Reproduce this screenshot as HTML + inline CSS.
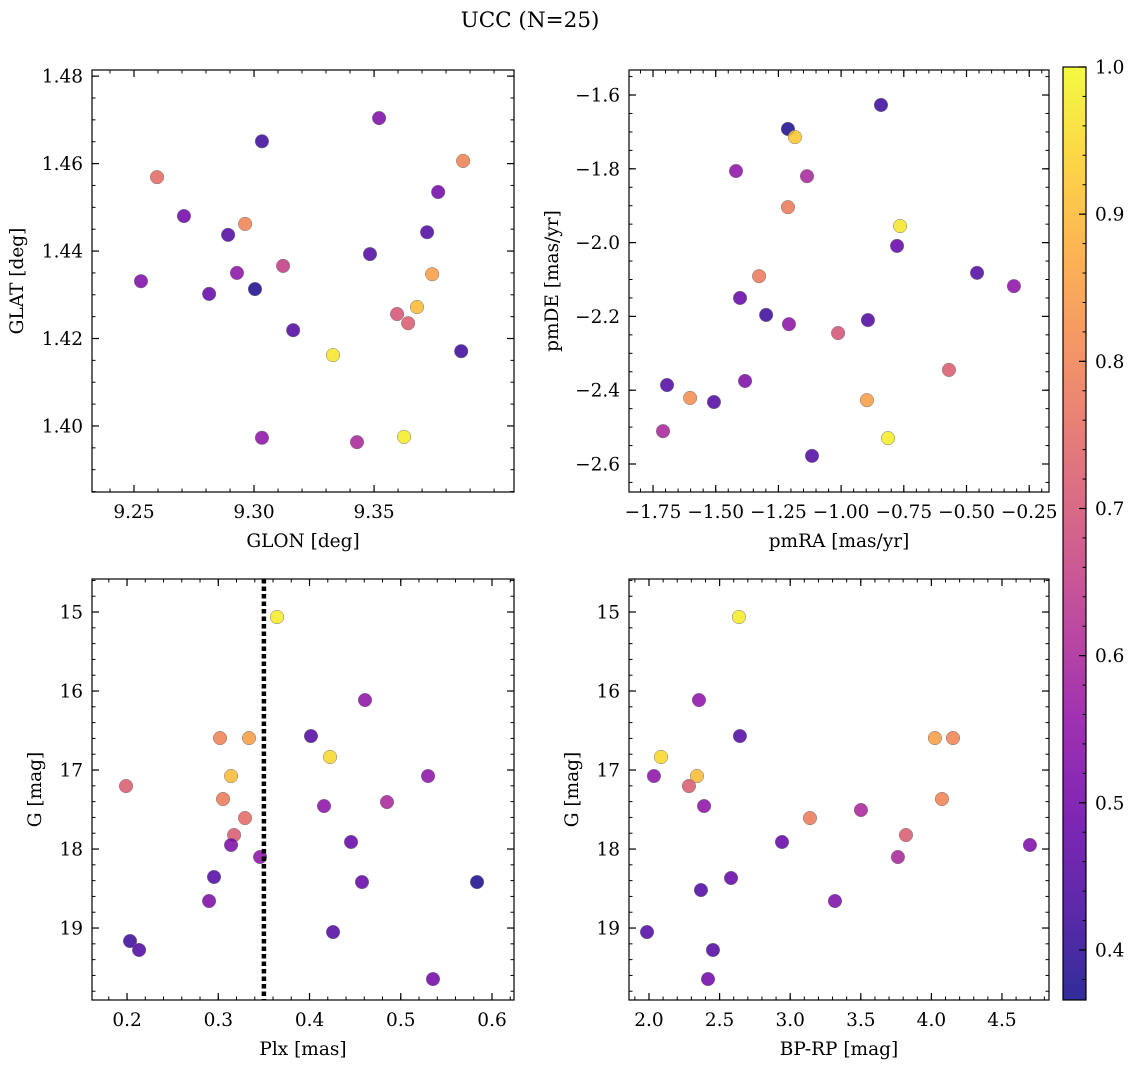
<!DOCTYPE html>
<html><head><meta charset="utf-8">
<style>
html,body{margin:0;padding:0;background:#fff;}
svg text{font-family:"DejaVu Serif","Liberation Serif",serif;fill:#000;}
</style></head>
<body>
<svg id="fig" width="1135" height="1067" viewBox="0 0 1135 1067" xmlns="http://www.w3.org/2000/svg">
<text x="530" y="27" font-size="21.5" text-anchor="middle">UCC (N=25)</text>
</svg>
<script>
// ---- data ----
const glon = [9.3033,9.2596,9.2708,9.2892,9.2963,9.2529,9.2813,9.2929,9.3004,9.3121,9.3163,9.3329,9.3033,9.3429,9.3521,9.3483,9.3596,9.3642,9.3679,9.3625,9.3742,9.3721,9.3767,9.3871,9.3863];
const glat = [1.4651,1.4569,1.4480,1.4437,1.4462,1.4331,1.4302,1.4350,1.4313,1.4366,1.4219,1.4162,1.3973,1.3963,1.4704,1.4393,1.4256,1.4235,1.4272,1.3975,1.4347,1.4443,1.4535,1.4606,1.4171];
const probPos = [0.42,0.75,0.5,0.45,0.8,0.52,0.48,0.55,0.38,0.65,0.45,0.97,0.55,0.6,0.52,0.45,0.7,0.72,0.9,0.98,0.85,0.45,0.5,0.8,0.42];

const pmra = [-0.841,-1.212,-1.184,-1.419,-1.136,-1.212,-0.765,-0.777,-0.458,-0.311,-1.327,-1.403,-1.299,-1.208,-0.893,-1.012,-0.570,-1.694,-1.383,-1.602,-1.507,-0.897,-1.710,-0.813,-1.116];
const pmde = [-1.627,-1.692,-1.714,-1.806,-1.820,-1.904,-1.955,-2.009,-2.082,-2.118,-2.091,-2.150,-2.196,-2.221,-2.210,-2.245,-2.345,-2.386,-2.375,-2.421,-2.432,-2.427,-2.511,-2.530,-2.578];
const probPm = [0.42,0.38,0.92,0.55,0.6,0.78,0.97,0.48,0.45,0.55,0.78,0.48,0.42,0.55,0.45,0.7,0.72,0.45,0.52,0.82,0.45,0.85,0.6,0.98,0.45];

const plx = [0.3644,0.4608,0.4016,0.3019,0.3337,0.4225,0.3140,0.5299,0.1989,0.3052,0.4849,0.4159,0.3293,0.3173,0.3140,0.4455,0.3458,0.2953,0.4575,0.5836,0.2899,0.4258,0.2033,0.2132,0.5353];
const gPlx = [15.063,16.114,16.570,16.595,16.595,16.835,17.076,17.076,17.203,17.367,17.405,17.456,17.608,17.823,17.949,17.911,18.101,18.354,18.418,18.418,18.658,19.051,19.165,19.278,19.646];
const probPlx = [0.98,0.55,0.45,0.8,0.85,0.95,0.9,0.55,0.72,0.78,0.6,0.55,0.75,0.72,0.52,0.48,0.55,0.45,0.48,0.38,0.52,0.45,0.42,0.45,0.5];

const bprp = [2.637,2.354,2.644,2.085,4.025,4.153,2.340,2.035,2.283,2.390,3.501,4.075,3.140,3.820,3.763,2.942,4.698,2.368,2.581,3.317,1.986,2.453,2.418];
const gCmd = [15.063,16.114,16.570,16.835,16.595,16.595,17.076,17.076,17.203,17.456,17.506,17.367,17.608,17.823,18.101,17.911,17.949,18.519,18.367,18.658,19.051,19.278,19.646];
const probCmd = [0.98,0.55,0.45,0.95,0.85,0.8,0.9,0.55,0.72,0.55,0.6,0.8,0.78,0.72,0.6,0.48,0.52,0.45,0.48,0.52,0.45,0.45,0.5];

const plxCut = 0.35;
const cbTicks = [0.4,0.5,0.6,0.7,0.8,0.9,1.0];
const VMIN = 0.366, VMAX = 1.0;

// ---- helpers ----
const NS = "http://www.w3.org/2000/svg";
const svg = document.getElementById('fig');
const FS = 18.5;
function mk(tag, attrs, parent){const e=document.createElementNS(NS,tag);for(const k in attrs)e.setAttribute(k,attrs[k]);(parent||svg).appendChild(e);return e;}
const stops=["#0d0887","#41049d","#6a00a8","#8f0da4","#b12a90","#cc4778","#e16462","#f2844b","#fca636","#fcce25","#f0f921"];
function hex(h){return [1,3,5].map(i=>parseInt(h.substr(i,2),16));}
function plasma(t){t=Math.max(0,Math.min(1,t));const f=t*10,i=Math.min(9,Math.floor(f)),r=f-i;const a=hex(stops[i]),b=hex(stops[i+1]);return "rgb("+a.map((v,k)=>Math.round(v+(b[k]-v)*r)).join(",")+")";}
function cmap(v){return plasma((v-VMIN)/(VMAX-VMIN));}
function range(a,b,s){const r=[];for(let v=a;v<=b+1e-9;v+=s)r.push(+v.toFixed(6));return r;}

function panel(o){
  const g=mk('g',{});
  
  
  const X=v=>o.x0+(v-o.xd[0])/(o.xd[1]-o.xd[0])*(o.x1-o.x0);
  const Y=v=>o.inv? o.y0+(v-o.yd[0])/(o.yd[1]-o.yd[0])*(o.y1-o.y0) : o.y1-(v-o.yd[0])/(o.yd[1]-o.yd[0])*(o.y1-o.y0);
  const inX=v=>v>=Math.min(...o.xd)-1e-9&&v<=Math.max(...o.xd)+1e-9;
  const inY=v=>v>=Math.min(...o.yd)-1e-9&&v<=Math.max(...o.yd)+1e-9;
  o.xminor.filter(inX).forEach(v=>{const x=X(v);mk('line',{x1:x,x2:x,y1:o.y1,y2:o.y1-3.5,stroke:'#000','stroke-width':1},g);mk('line',{x1:x,x2:x,y1:o.y0,y2:o.y0+3.5,stroke:'#000','stroke-width':1},g);});
  o.yminor.filter(inY).forEach(v=>{const y=Y(v);mk('line',{x1:o.x0,x2:o.x0+3.5,y1:y,y2:y,stroke:'#000','stroke-width':1},g);mk('line',{x1:o.x1,x2:o.x1-3.5,y1:y,y2:y,stroke:'#000','stroke-width':1},g);});
  o.xmajor.filter(inX).forEach((v,i)=>{const x=X(v);mk('line',{x1:x,x2:x,y1:o.y1,y2:o.y1-7,stroke:'#000','stroke-width':1.2},g);mk('line',{x1:x,x2:x,y1:o.y0,y2:o.y0+7,stroke:'#000','stroke-width':1.2},g);
    const t=mk('text',{x:x,y:o.y1+26,'font-size':FS,'text-anchor':'middle'},g);t.textContent=o.xfmt(v);
    
    });
  o.ymajor.filter(inY).forEach(v=>{const y=Y(v);mk('line',{x1:o.x0,x2:o.x0+7,y1:y,y2:y,stroke:'#000','stroke-width':1.2},g);mk('line',{x1:o.x1,x2:o.x1-7,y1:y,y2:y,stroke:'#000','stroke-width':1.2},g);
    const t=mk('text',{x:o.x0-9,y:y+6.5,'font-size':FS,'text-anchor':'end'},g);t.textContent=o.yfmt(v);
    
    });
  if(o.vline!==undefined){const l=mk('line',{x1:X(o.vline),x2:X(o.vline),y1:o.y0,y2:o.y1,stroke:'#000','stroke-width':4.5,'stroke-dasharray':'4.5,3'},g);
    
    }
  o.xs.forEach((v,i)=>{const c=mk('circle',{cx:X(v),cy:Y(o.ys[i]),r:6.8,fill:cmap(o.cs[i]),'fill-opacity':0.85,stroke:'#777','stroke-width':0.5},g);
    
    });
  mk('rect',{x:o.x0,y:o.y0,width:o.x1-o.x0,height:o.y1-o.y0,fill:'none',stroke:'#000','stroke-width':1.2},g);
  const xl=mk('text',{x:(o.x0+o.x1)/2,y:o.y1+55,'font-size':FS,'text-anchor':'middle'},g);xl.textContent=o.xlabel;
  
  
  const yx=o.ylx,yy=(o.y0+o.y1)/2;
  const yl=mk('text',{x:yx,y:yy,'font-size':FS,'text-anchor':'middle',transform:`rotate(-90 ${yx} ${yy})`},g);yl.textContent=o.ylabel;
  
  
}
const f2=v=>v.toFixed(2), f1=v=>v.toFixed(1), f0=v=>v.toFixed(0);
const mfmt=v=>(v<0?'\u2212':'')+Math.abs(v).toFixed(2);
const mfmt1=v=>(v<0?'\u2212':'')+Math.abs(v).toFixed(1);

panel({name:'glon-glat-panel',x0:92,x1:514,y0:70,y1:492,xd:[9.2325,9.4083],yd:[1.3849,1.4814],
  xmajor:range(9.25,9.35,0.05),xminor:range(9.23,9.41,0.01),ymajor:range(1.40,1.48,0.02),yminor:range(1.385,1.48,0.005),
  xfmt:f2,yfmt:f2,xs:glon,ys:glat,cs:probPos,xlabel:'GLON [deg]',ylabel:'GLAT [deg]',ylx:23});
panel({name:'proper-motion-panel',x0:629,x1:1049,y0:70,y1:492,xd:[-1.8457,-0.1711],yd:[-2.6759,-1.5322],
  xmajor:range(-1.75,-0.25,0.25),xminor:range(-1.85,-0.15,0.05),ymajor:range(-2.6,-1.6,0.2),yminor:range(-2.65,-1.55,0.05),
  xfmt:mfmt,yfmt:mfmt1,xs:pmra,ys:pmde,cs:probPm,xlabel:'pmRA [mas/yr]',ylabel:'pmDE [mas/yr]',ylx:558});
panel({name:'plx-g-panel',x0:92,x1:514,y0:579,y1:1000,xd:[0.1616,0.6241],yd:[14.582,19.911],inv:true,
  xmajor:range(0.2,0.6,0.1),xminor:range(0.18,0.62,0.02),ymajor:range(15,19,1),yminor:range(14.6,19.8,0.2),
  xfmt:f1,yfmt:f0,xs:plx,ys:gPlx,cs:probPlx,xlabel:'Plx [mas]',ylabel:'G [mag]',ylx:41});
panel({name:'cmd-panel',x0:629,x1:1049,y0:579,y1:1000,xd:[1.8584,4.833],yd:[14.582,19.911],inv:true,
  xmajor:range(2.0,4.5,0.5),xminor:range(1.9,4.8,0.1),ymajor:range(15,19,1),yminor:range(14.6,19.8,0.2),
  xfmt:f1,yfmt:f0,xs:bprp,ys:gCmd,cs:probCmd,xlabel:'BP-RP [mag]',ylabel:'G [mag]',ylx:578});
// dotted cut line drawn in plx panel coordinates
(function(){const X=v=>92+(v-0.1616)/(0.6241-0.1616)*(514-92);
  const l=mk('line',{x1:X(plxCut),x2:X(plxCut),y1:579,y2:1000,stroke:'#000','stroke-width':4.5,'stroke-dasharray':'4.5,3'});
  
  })();

// colorbar
(function(){
  const x0=1063,x1=1086,y0=67,y1=1000;
  const g=mk('g',{});
  
  
  const defs=mk('defs',{},g);
  const lg=mk('linearGradient',{id:'cbg',x1:0,y1:1,x2:0,y2:0},defs);
  for(let i=0;i<=20;i++){mk('stop',{offset:i/20,'stop-color':plasma(i/20)},lg);}
  mk('rect',{x:x0,y:y0,width:x1-x0,height:y1-y0,fill:'url(#cbg)','fill-opacity':0.85},g);
  const Y=v=>y1-(v-VMIN)/(VMAX-VMIN)*(y1-y0);
  range(0.38,1.0,0.02).forEach(v=>{const y=Y(v);mk('line',{x1:x1,x2:x1-3.5,y1:y,y2:y,stroke:'#000','stroke-width':1},g);});
  cbTicks.forEach(v=>{const y=Y(v);mk('line',{x1:x1,x2:x1-7,y1:y,y2:y,stroke:'#000','stroke-width':1.2},g);
    const t=mk('text',{x:x1+9,y:y+6.5,'font-size':FS},g);t.textContent=v.toFixed(1);
    
    });
  mk('rect',{x:x0,y:y0,width:x1-x0,height:y1-y0,fill:'none',stroke:'#000','stroke-width':1.2},g);
})();
</script>
</body></html>
